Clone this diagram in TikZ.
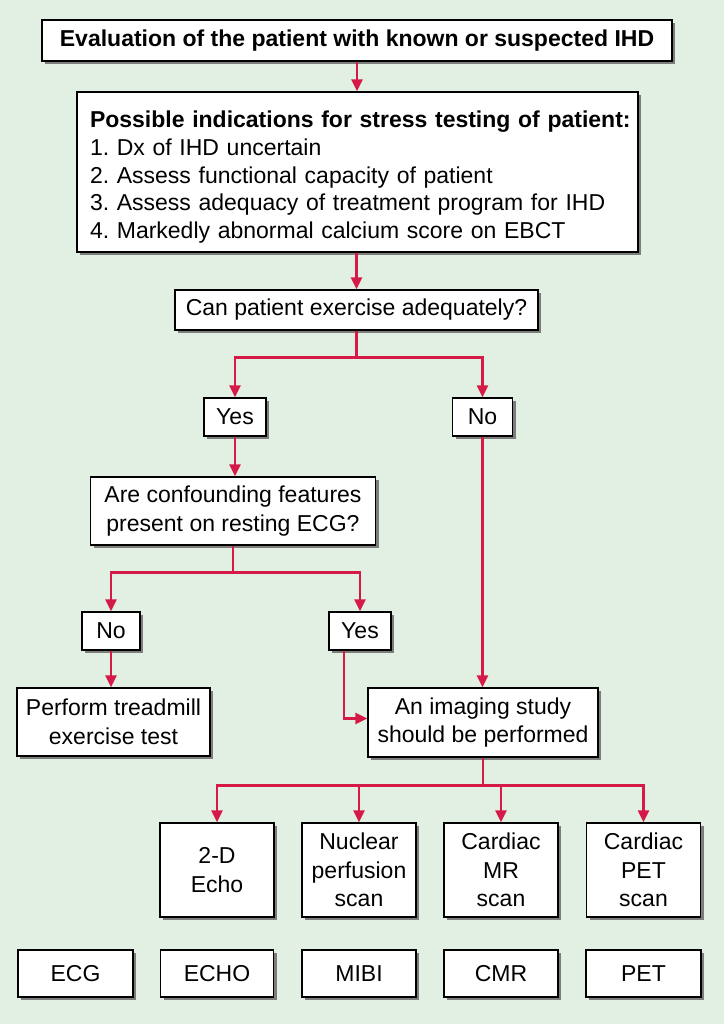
\documentclass[tikz,border=0pt]{standalone}
\usepackage{fontspec}
\setmainfont{Liberation Sans}
\usetikzlibrary{arrows.meta,shadows,calc}
\definecolor{bg}{RGB}{225,240,226}
\definecolor{arrred}{RGB}{214,26,72}
\definecolor{shadowgray}{RGB}{125,125,125}
\frenchspacing
\begin{document}
\begin{tikzpicture}[x=1pt,y=-1pt,
  box/.style={draw=black, line width=1.2pt, fill=white,
    general shadow={fill=shadowgray, shadow xshift=3pt, shadow yshift=-3pt},
    inner sep=0pt, align=center, font=\fontsize{23}{28.5}\selectfont},
  arr/.style={draw=arrred, line width=2.5pt, -{Triangle[length=12pt,width=11pt]}},
  ln/.style={draw=arrred, line width=2.5pt},
  small/.style={box, minimum height=38pt},
  opt/.style={box, minimum width=114pt, minimum height=94pt},
  abbr/.style={box, minimum width=115pt, minimum height=47pt}]
\fill[bg] (0,0) rectangle (724,1024);
\useasboundingbox (0,0) rectangle (724,1024);

\node[box, minimum width=630pt, minimum height=41pt,
  font=\bfseries\fontsize{23}{28.5}\selectfont] (eval) at (357,40.5)
  {Evaluation of the patient with known or suspected IHD};
\node[box, minimum width=561pt, minimum height=160pt, text width=535pt, align=left,
  font=\fontsize{23}{27.7}\selectfont] (ind) at (357.5,172)
  {\rule{0pt}{27pt}\makebox[535pt][l]{\bfseries Possible indications for stress testing of patient:}\\
   1. Dx of IHD uncertain\\
   2. Assess functional capacity of patient\\
   3. Assess adequacy of treatment program for IHD\\
   4. Markedly abnormal calcium score on EBCT};
\node[box, minimum width=363pt, minimum height=40pt] (ex) at (356.5,310)
  {Can patient exercise adequately?};
\node[small, minimum width=62pt] (yes1) at (235,417) {Yes};
\node[small, minimum width=60pt] (no1) at (482.5,417) {No};
\node[box, minimum width=285pt, minimum height=68pt] (conf) at (233,511)
  {Are confounding features\\present on resting ECG?};
\node[small, minimum width=58pt] (no2) at (111,631) {No};
\node[small, minimum width=62pt] (yes2) at (360,631) {Yes};
\node[box, minimum width=193pt, minimum height=68pt] (tread) at (113.5,722)
  {Perform treadmill\\exercise test};
\node[box, minimum width=230pt, minimum height=69pt] (img) at (483,722.5)
  {An imaging study\\should be performed};
\node[opt] (echo) at (217,870) {2-D\\Echo};
\node[opt] (nuc) at (359,870) {Nuclear\\perfusion\\scan};
\node[opt] (mr) at (501,870) {Cardiac\\MR\\scan};
\node[opt] (pet) at (643.5,870) {Cardiac\\PET\\scan};
\node[abbr] (ecg) at (75.5,973.5) {ECG};
\node[abbr, minimum width=113pt] (echoA) at (217,973.5) {ECHO};
\node[abbr, minimum width=114pt] (mibi) at (359,973.5) {MIBI};
\node[abbr, minimum width=114pt] (cmr) at (501,973.5) {CMR};
\node[abbr] (petA) at (643.5,973.5) {PET};

\draw[arr] (eval.south) -- (eval.south |- ind.north);
\draw[arr] (ind.south -| ex.north) -- (ex.north);
\draw[ln] (ex.south) -- ++(0,27) coordinate (j1);
\draw[arr] (j1) -| (yes1.north);
\draw[arr] (j1) -| (no1.north);
\draw[arr] (yes1.south) -- (yes1.south |- conf.north);
\draw[ln] (conf.south) -- ++(0,27) coordinate (j2);
\draw[arr] (j2) -| (no2.north);
\draw[arr] (j2) -| (yes2.north);
\draw[arr] (no2.south) -- (no2.south |- tread.north);
\draw[arr] ([xshift=-16pt]yes2.south) |- ([yshift=4pt]img.west);
\draw[arr] (no1.south) -- (no1.south |- img.north);
\draw[ln] (img.south) -- ++(0,28) coordinate (j3);
\draw[arr] (j3) -| (echo.north);
\draw[arr] (j3) -| (nuc.north);
\draw[arr] (j3) -| (mr.north);
\draw[arr] (j3) -| (pet.north);
\end{tikzpicture}
\end{document}
